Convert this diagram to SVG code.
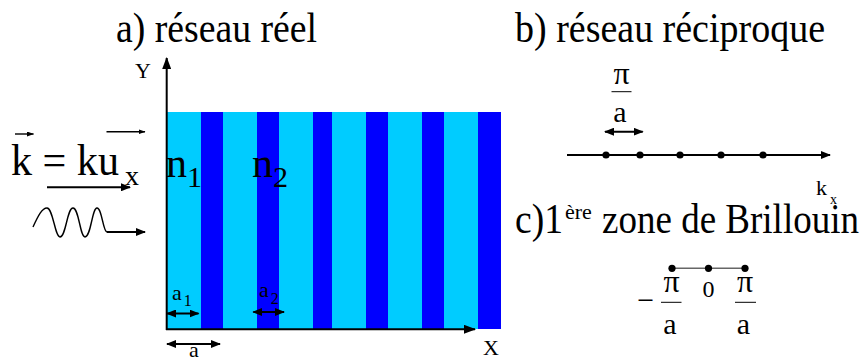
<svg xmlns="http://www.w3.org/2000/svg" width="865" height="361" viewBox="0 0 865 361" font-family="'Liberation Serif', Tinos, 'Times New Roman', 'DejaVu Serif', serif">
<style>
text{font-family:'Liberation Serif',Tinos,'Times New Roman','DejaVu Serif',serif;fill:#000}
.t{font-size:42px}
.ln{stroke:#000;stroke-width:2;fill:none}
.thin{stroke:#000;stroke-width:1.4;fill:none}
.light{fill:#00CCFF}
.dark{fill:#0000FF}
</style>
<defs>
<marker id="big" markerUnits="userSpaceOnUse" markerWidth="12" markerHeight="9" refX="11" refY="4.5" orient="auto-start-reverse"><path d="M0,0 L12,4.5 L0,9 z" fill="#000"/></marker>
<marker id="mid" markerUnits="userSpaceOnUse" markerWidth="10" markerHeight="8" refX="9" refY="4" orient="auto-start-reverse"><path d="M0,0 L10,4 L0,8 z" fill="#000"/></marker>
<marker id="sm" markerUnits="userSpaceOnUse" markerWidth="7" markerHeight="5" refX="6.5" refY="2.5" orient="auto"><path d="M0,0 L7,2.5 L0,5 z" fill="#000"/></marker>
</defs>

<g id="titles">
<text class="t" x="116" y="42" textLength="201" lengthAdjust="spacingAndGlyphs">a) réseau réel</text>
<text class="t" x="515" y="42" textLength="310" lengthAdjust="spacingAndGlyphs">b) réseau réciproque</text>
<text class="t" x="515" y="233" textLength="48" lengthAdjust="spacingAndGlyphs">c)1</text>
<text x="565" y="219" font-size="22">ère</text>
<text class="t" x="602" y="233" textLength="257" lengthAdjust="spacingAndGlyphs">zone de Brillouin</text>
</g>

<g id="lattice">
<rect class="light" x="167" y="112" width="334" height="217"/>
<rect class="dark" x="201" y="112" width="22" height="217"/>
<rect class="dark" x="257" y="112" width="22" height="217"/>
<rect class="dark" x="313" y="112" width="19" height="217"/>
<rect class="dark" x="366" y="112" width="22" height="217"/>
<rect class="dark" x="422" y="112" width="22" height="217"/>
<rect class="dark" x="478" y="112" width="23" height="217"/>
<text x="166" y="177" font-size="42">n<tspan font-size="30" dy="10">1</tspan></text>
<text x="252" y="177" font-size="42">n<tspan font-size="30" dy="10">2</tspan></text>
<text x="172" y="300" font-size="22">a<tspan font-size="16" dx="2" dy="6">1</tspan></text>
<text x="259" y="297" font-size="22">a<tspan font-size="16" dx="2" dy="7">2</tspan></text>
<text x="189" y="357" font-size="22">a</text>
<text x="483" y="355" font-size="22">X</text>
<text x="135" y="78" font-size="22">Y</text>
</g>

<g id="wave-vector">
<text x="11" y="175" font-size="44" textLength="108" lengthAdjust="spacingAndGlyphs">k = ku</text>
<text x="125" y="185" font-size="28">x</text>
</g>

<g id="reciprocal">
<text x="621.5" y="84" font-size="32" text-anchor="middle">π</text>
<line x1="611.5" y1="91.7" x2="631.5" y2="91.7" stroke="#000" stroke-width="1"/>
<text x="620" y="121.5" font-size="30" text-anchor="middle">a</text>
<circle cx="606" cy="155" r="3.6"/>
<circle cx="640" cy="155" r="3.6"/>
<circle cx="680" cy="155" r="3.6"/>
<circle cx="721" cy="155" r="3.6"/>
<circle cx="763" cy="155" r="3.6"/>
<text x="816" y="195" font-size="22">k</text>
<text x="830" y="204" font-size="14">x</text>
</g>

<g id="brillouin">
<line x1="672" y1="268.3" x2="745" y2="268.3" stroke="#666" stroke-width="1.5"/>
<circle cx="672" cy="268.3" r="3.6"/>
<circle cx="708.5" cy="268.3" r="3.6"/>
<circle cx="745" cy="268.3" r="3.6"/>
<text x="645.8" y="310" font-size="30" text-anchor="middle">−</text>
<text x="671.5" y="292" font-size="32" text-anchor="middle">π</text>
<line x1="661" y1="302.3" x2="681.5" y2="302.3" stroke="#000" stroke-width="1"/>
<text x="670" y="334" font-size="30" text-anchor="middle">a</text>
<text x="708.5" y="296.7" font-size="24" text-anchor="middle">0</text>
<text x="745" y="292" font-size="32" text-anchor="middle">π</text>
<line x1="735" y1="302.3" x2="756" y2="302.3" stroke="#000" stroke-width="1"/>
<text x="743.5" y="334" font-size="30" text-anchor="middle">a</text>
</g>

<g id="connectors">
<line class="ln" x1="166.7" y1="330" x2="166.7" y2="58" marker-end="url(#big)"/>
<line class="ln" x1="166" y1="329.3" x2="475" y2="329.3" marker-end="url(#big)"/>
<line class="ln" x1="167" y1="313.5" x2="198.5" y2="313.5" marker-start="url(#mid)" marker-end="url(#mid)"/>
<line class="ln" x1="253.3" y1="312" x2="284" y2="312" marker-start="url(#mid)" marker-end="url(#mid)"/>
<line class="ln" x1="167" y1="344" x2="220" y2="344" marker-start="url(#mid)" marker-end="url(#mid)"/>
<line class="thin" x1="15" y1="134" x2="33.5" y2="134" marker-end="url(#sm)"/>
<line class="thin" x1="106.5" y1="131.7" x2="145" y2="131.7" marker-end="url(#sm)"/>
<line class="ln" x1="47" y1="187.3" x2="130" y2="187.3" marker-end="url(#mid)"/>
<path class="thin" d="M33,227 C38,216 42,208 47,208 C53,208 55,237 60,237 C66,237 67,208 73,208 C79,208 80,237 85,237 C91,237 92,208 97,208 C102,208 103,232 107,232"/>
<line class="ln" x1="107" y1="232" x2="145" y2="232" marker-end="url(#mid)"/>
<line class="ln" x1="567" y1="155" x2="830" y2="155" marker-end="url(#mid)"/>
<line class="ln" x1="605" y1="131.7" x2="642.7" y2="131.7" marker-start="url(#mid)" marker-end="url(#mid)"/>
</g>
</svg>
